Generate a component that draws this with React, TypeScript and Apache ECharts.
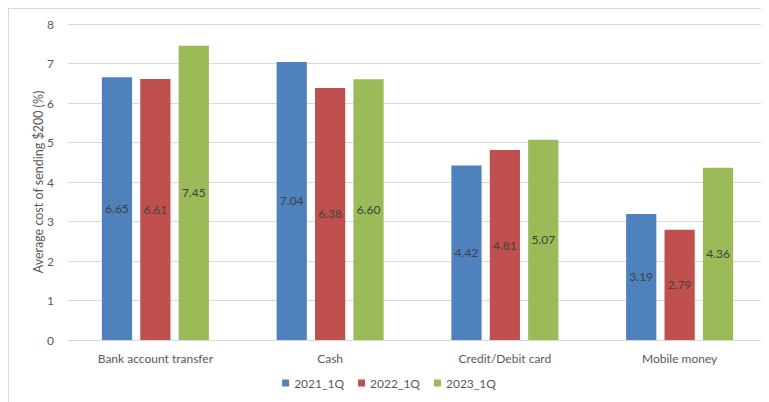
import React, { useEffect, useRef } from "react";
import * as echarts from "echarts";

const categories = ["Bank account transfer", "Cash", "Credit/Debit card", "Mobile money"];
const seriesNames = ["2021_1Q", "2022_1Q", "2023_1Q"];
const values2021 = [6.65, 7.04, 4.42, 3.19];
const values2022 = [6.61, 6.38, 4.81, 2.79];
const values2023 = [7.45, 6.6, 5.07, 4.36];
const colors = ["#4F81BD", "#C0504D", "#9BBB59"];

export default function App() {
  const ref = useRef<HTMLDivElement>(null);
  useEffect(() => {
    if (!ref.current) return;
    const chart = echarts.init(ref.current, undefined, { renderer: "svg" });
    const font = "Lato, 'Open Sans', sans-serif";
    const data = [values2021, values2022, values2023];
    chart.setOption({
      animation: false,
      textStyle: { fontFamily: font },
      grid: { left: 59, top: 15, width: 699, height: 316 },
      legend: {
        bottom: 8,
        left: "center",
        itemWidth: 7,
        itemHeight: 7,
        itemGap: 14,
        icon: "rect",
        textStyle: { color: "#595959", fontSize: 12, fontFamily: font },
        data: seriesNames,
      },
      xAxis: {
        type: "category",
        data: categories,
        axisLine: { lineStyle: { color: "#d9d9d9" } },
        axisTick: { show: false },
        axisLabel: { color: "#595959", fontSize: 12, margin: 12, fontFamily: font },
      },
      yAxis: {
        type: "value",
        min: 0,
        max: 8,
        interval: 1,
        name: "Average cost of sending $200 (%)",
        nameLocation: "middle",
        nameGap: 23,
        nameMoveOverlap: false,
        nameTextStyle: { color: "#595959", fontSize: 12.5, fontFamily: font },
        axisLine: { show: false },
        axisTick: { show: false },
        splitLine: { lineStyle: { color: "#d9d9d9" } },
        axisLabel: { color: "#595959", fontSize: 12, margin: 14, fontFamily: font },
      },
      series: seriesNames.map((name, i) => ({
        name,
        type: "bar",
        data: data[i],
        barWidth: "17.3%",
        barGap: "27%",
        itemStyle: { color: colors[i] },
        label: {
          show: true,
          position: "inside",
          color: "#404040",
          fontSize: 12,
          fontFamily: font,
          formatter: (p: any) => p.value.toFixed(2),
        },
      })),
    });
    return () => chart.dispose();
  }, []);
  return (
    <div
      ref={ref}
      style={{
        width: 760,
        height: 393,
        borderTop: "1px solid #d9d9d9",
        borderLeft: "1px solid #d9d9d9",
      }}
    />
  );
}
